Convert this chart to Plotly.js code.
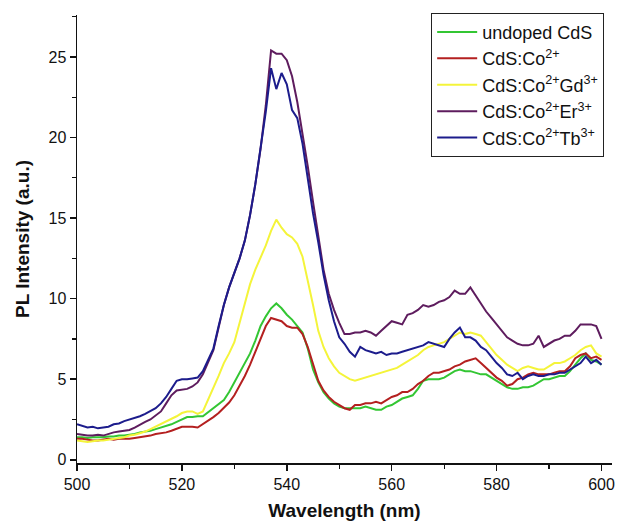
<!DOCTYPE html>
<html>
<head>
<meta charset="utf-8">
<script src="https://cdn.plot.ly/plotly-3.0.1.min.js"></script>
<style>
html,body{margin:0;padding:0;background:#fff;}
#chart{width:626px;height:528px;}
</style>
</head>
<body>
<div id="chart"></div>
<script>
// Wavelength grid (nm)
var wavelength = [
 500,501,502,503,504,505,506,507,508,509,
 510,511,512,513,514,515,516,517,518,519,
 520,521,522,523,524,525,526,527,528,529,
 530,531,532,533,534,535,536,537,538,539,
 540,541,542,543,544,545,546,547,548,549,
 550,551,552,553,554,555,556,557,558,559,
 560,561,562,563,564,565,566,567,568,569,
 570,571,572,573,574,575,576,577,578,579,
 580,581,582,583,584,585,586,587,588,589,
 590,591,592,593,594,595,596,597,598,599,600];

var seriesNames = ["undoped CdS", "CdS:Co<sup>2+</sup>", "CdS:Co<sup>2+</sup>Gd<sup>3+</sup>",
                   "CdS:Co<sup>2+</sup>Er<sup>3+</sup>", "CdS:Co<sup>2+</sup>Tb<sup>3+</sup>"];

var undoped = [
 1.4,1.4,1.35,1.4,1.4,1.4,1.45,1.45,1.5,1.5,
 1.55,1.6,1.7,1.75,1.8,1.9,2.0,2.1,2.2,2.35,
 2.5,2.65,2.65,2.7,2.7,2.95,3.2,3.45,3.7,4.2,
 4.8,5.4,6.0,6.6,7.4,8.3,8.9,9.4,9.7,9.4,
 9.0,8.7,8.3,7.9,6.9,5.6,4.8,4.2,3.8,3.5,
 3.3,3.2,3.2,3.2,3.2,3.3,3.2,3.1,3.1,3.3,
 3.4,3.6,3.8,3.9,4.0,4.4,4.9,5.0,5.0,5.0,
 5.1,5.3,5.5,5.6,5.5,5.5,5.4,5.3,5.3,5.1,
 4.9,4.7,4.5,4.4,4.4,4.5,4.5,4.6,4.8,5.0,
 5.0,5.1,5.2,5.2,5.5,5.9,6.3,6.6,6.2,6.1,5.9];

var co = [
 1.3,1.3,1.25,1.2,1.2,1.25,1.3,1.25,1.3,1.3,
 1.3,1.35,1.4,1.45,1.5,1.6,1.65,1.7,1.8,1.95,
 2.05,2.05,2.05,2.0,2.2,2.4,2.65,2.9,3.2,3.55,
 4.0,4.6,5.2,5.9,6.7,7.6,8.3,8.8,8.7,8.6,
 8.3,8.2,8.2,7.8,7.0,6.0,4.9,4.3,3.9,3.6,
 3.4,3.2,3.1,3.4,3.4,3.5,3.5,3.6,3.5,3.7,
 3.9,4.0,4.2,4.2,4.4,4.7,4.9,5.2,5.4,5.4,
 5.5,5.6,5.8,5.9,6.1,6.2,6.3,6.0,5.7,5.4,
 5.1,4.9,4.6,4.7,5.0,5.1,5.3,5.4,5.3,5.3,
 5.3,5.4,5.5,5.5,5.8,6.3,6.5,6.6,6.3,6.4,6.2];

var coGd = [
 1.2,1.15,1.1,1.15,1.2,1.2,1.25,1.3,1.35,1.4,
 1.5,1.55,1.65,1.75,1.9,2.05,2.2,2.35,2.5,2.7,
 2.9,3.0,3.0,2.85,3.0,3.7,4.5,5.2,6.0,6.6,
 7.3,8.5,9.8,10.9,11.8,12.5,13.3,14.2,14.9,14.4,
 14.0,13.8,13.4,12.6,11.2,9.6,8.0,7.0,6.3,5.8,
 5.4,5.2,5.0,4.9,5.0,5.1,5.2,5.3,5.4,5.5,
 5.6,5.7,5.9,6.1,6.3,6.5,6.8,7.0,7.1,7.2,
 7.3,7.5,7.7,7.9,7.8,7.9,7.8,7.7,7.3,6.9,
 6.5,6.2,5.9,5.7,5.5,5.7,5.8,5.7,5.6,5.6,
 5.8,6.0,6.0,6.1,6.3,6.5,6.8,7.0,7.1,6.6,6.4];

var coEr = [
 1.6,1.55,1.5,1.5,1.55,1.5,1.6,1.7,1.75,1.8,
 1.85,2.0,2.2,2.35,2.5,2.75,3.0,3.5,4.0,4.3,
 4.35,4.4,4.55,4.8,5.3,6.0,6.8,8.2,9.6,10.7,
 11.6,12.5,13.6,15.2,17.1,19.3,22.0,25.4,25.2,25.2,
 24.8,23.8,22.2,20.3,18.2,16.0,13.8,11.8,10.3,9.3,
 8.5,7.8,7.8,7.9,7.9,8.0,7.9,7.7,8.0,8.3,
 8.6,8.5,8.4,9.0,9.1,9.3,9.6,9.5,9.6,9.8,
 9.9,10.1,10.5,10.3,10.3,10.7,10.2,9.7,9.2,8.8,
 8.4,8.0,7.6,7.4,7.2,7.1,7.1,7.2,7.7,7.0,
 7.2,7.4,7.5,7.7,7.7,8.0,8.4,8.4,8.4,8.3,7.5];

var coTb = [
 2.2,2.1,2.0,2.05,1.95,2.0,2.05,2.2,2.25,2.4,
 2.5,2.6,2.7,2.85,3.0,3.2,3.5,3.9,4.4,4.9,
 5.0,5.0,5.05,5.1,5.5,6.2,6.9,8.3,9.6,10.7,
 11.6,12.5,13.6,15.2,17.1,19.3,21.6,24.3,23.0,24.0,
 23.3,21.7,21.2,19.6,17.3,15.3,13.5,11.5,9.9,8.6,
 7.6,7.2,6.7,6.4,7.0,6.8,6.7,6.6,6.7,6.5,
 6.6,6.6,6.7,6.8,6.9,7.0,7.1,7.3,7.2,7.1,
 7.0,7.5,7.9,8.2,7.6,7.6,7.4,7.0,6.8,6.4,
 6.0,5.7,5.3,5.2,5.4,5.0,5.2,5.3,5.2,5.2,
 5.3,5.3,5.4,5.4,5.6,5.8,6.0,6.4,6.0,6.2,5.9];

var seriesValues = [undoped, co, coGd, coEr, coTb];
var seriesColors = ["#33c633", "#b42020", "#f4f43a", "#5e1c5e", "#1c1c8c"];

var traces = seriesValues.map(function (vals, i) {
  return {
    x: wavelength, y: vals, type: "scatter", mode: "lines",
    name: seriesNames[i],
    line: {color: seriesColors[i], width: 2}
  };
});

var font = "Liberation Sans, Arial, sans-serif";
var layout = {
  width: 626, height: 528,
  margin: {l: 77, r: 14, t: 15, b: 65},
  paper_bgcolor: "#fff", plot_bgcolor: "#fff",
  showlegend: true,
  legend: {
    x: 0.662, y: 1.005, xanchor: "left", yanchor: "top",
    bordercolor: "#222", borderwidth: 1, bgcolor: "#fff",
    font: {family: font, size: 18, color: "#111"},
    tracegroupgap: 0, itemwidth: 40
  },
  xaxis: {
    range: [500, 602], dtick: 20, tick0: 500,
    showline: true, linecolor: "#111", linewidth: 1.5,
    ticks: "outside", ticklen: 6, tickwidth: 1.5, tickcolor: "#111",
    minor: {dtick: 10, ticks: "outside", ticklen: 4, tickwidth: 1.2, tickcolor: "#111"},
    showgrid: false, zeroline: false,
    tickfont: {family: font, size: 16, color: "#111"},
    title: {text: "<b>Wavelength (nm)</b>", font: {family: font, size: 19, color: "#111"}, standoff: 12}
  },
  yaxis: {
    range: [-0.2, 27.6], dtick: 5, tick0: 0,
    showline: true, linecolor: "#111", linewidth: 1.5,
    ticks: "outside", ticklen: 6, tickwidth: 1.5, tickcolor: "#111",
    minor: {dtick: 2.5, ticks: "outside", ticklen: 4, tickwidth: 1.2, tickcolor: "#111"},
    showgrid: false, zeroline: false,
    tickfont: {family: font, size: 16, color: "#111"},
    title: {text: "<b>PL Intensity (a.u.)</b>", font: {family: font, size: 19, color: "#111"}, standoff: 14}
  }
};

Plotly.newPlot("chart", traces, layout, {displayModeBar: false, staticPlot: true});
</script>
</body>
</html>
